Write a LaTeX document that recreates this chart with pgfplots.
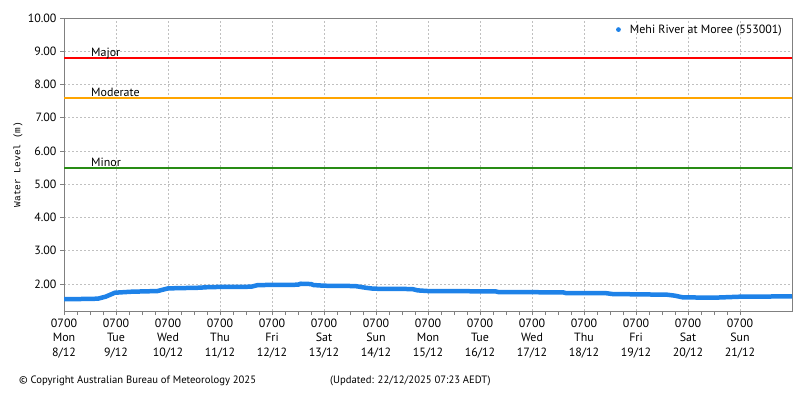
\documentclass[border=0pt]{standalone}
\usepackage{fontspec}
\setmainfont{PT Sans}
\newfontfamily\labmono{Liberation Mono}
\usepackage{pgfplots}
\pgfplotsset{compat=1.18}
\definecolor{levelblue}{RGB}{30,130,232}
\definecolor{majred}{RGB}{255,0,0}
\definecolor{modorange}{RGB}{255,165,0}
\definecolor{mingreen}{RGB}{40,140,20}
\definecolor{gridgrey}{RGB}{192,192,192}
\definecolor{axisgrey}{RGB}{128,128,128}

\pgfplotstableread{
day   level
0.00  1.55
0.30  1.55
0.65  1.56
0.80  1.62
0.98  1.74
1.30  1.77
1.80  1.79
2.00  1.87
2.60  1.89
2.80  1.91
3.60  1.92
3.73  1.97
4.50  1.98
4.55  2.01
4.75  2.00
4.80  1.97
5.00  1.95
5.60  1.94
5.80  1.89
5.95  1.86
6.70  1.85
6.80  1.81
7.00  1.79
8.30  1.78
8.35  1.76
9.60  1.75
9.65  1.73
10.40 1.73
10.55 1.70
11.60 1.68
11.75 1.65
11.90 1.60
12.50 1.59
13.00 1.62
14.00 1.63
}\levels

\begin{document}
\begin{tikzpicture}
\useasboundingbox (0,0) rectangle (800bp,400bp);
\begin{axis}[
    at={(64bp,89bp)}, anchor=south west,
    width=728bp, height=293bp, scale only axis,
    xmin=0, xmax=14, ymin=1.19, ymax=10,
    font=\fontsize{12}{15}\selectfont,
    axis line style={axisgrey},
    tick style={axisgrey, line width=0.8bp},
    tick align=outside, tick pos=left,
    major tick length=4bp, minor tick length=4bp,
    xtick={0,...,13},
    minor x tick num=3,
    xticklabels={
      {0700\\Mon\\8/12},{0700\\Tue\\9/12},{0700\\Wed\\10/12},{0700\\Thu\\11/12},
      {0700\\Fri\\12/12},{0700\\Sat\\13/12},{0700\\Sun\\14/12},{0700\\Mon\\15/12},
      {0700\\Tue\\16/12},{0700\\Wed\\17/12},{0700\\Thu\\18/12},{0700\\Fri\\19/12},
      {0700\\Sat\\20/12},{0700\\Sun\\21/12}},
    xticklabel style={align=center, font=\fontsize{12}{15}\selectfont},
    ytick={2,...,10},
    yticklabel style={/pgf/number format/.cd, fixed, fixed zerofill, precision=2, assume math mode=true},
    xmajorgrids, ymajorgrids,
    major grid style={gridgrey, dash pattern=on 2bp off 2bp, line width=0.7bp},
    ylabel={\labmono\fontsize{9.5}{10}\selectfont Water Level (m)},
    ylabel style={at={(rel axis cs:0,0.5)}, anchor=center, yshift=46bp},
    legend style={at={(rel axis cs:0.989,0.985)}, anchor=north east, draw=none, fill=none,
      font=\fontsize{12}{14}\selectfont, inner sep=0pt},
    legend cell align=left,
    clip=true,
]
\addlegendimage{legend image code/.code={
    \path[draw=none, fill=none] (0bp,0bp) -- (12bp,0bp);
    \fill[levelblue, draw=none] (2.5bp,0bp) circle (2.4bp);}}
\addlegendentry{Mehi River at Moree (553001)}
\addplot[majred, line width=2bp, forget plot] coordinates {(0,8.8) (14,8.8)};
\addplot[modorange, line width=2bp, forget plot] coordinates {(0,7.6) (14,7.6)};
\addplot[mingreen, line width=2bp, forget plot] coordinates {(0,5.5) (14,5.5)};
\addplot[levelblue, line width=4.5bp, line join=round, forget plot] table[x=day, y=level] {\levels};
\node[anchor=base west, inner sep=0pt, font=\fontsize{12}{13}\selectfont] at (axis cs:0.52,8.84) {Major};
\node[anchor=base west, inner sep=0pt, font=\fontsize{12}{13}\selectfont] at (axis cs:0.52,7.64) {Moderate};
\node[anchor=base west, inner sep=0pt, font=\fontsize{12}{13}\selectfont] at (axis cs:0.52,5.54) {Minor};
\end{axis}
\node[anchor=base west, inner sep=0pt, font=\fontsize{10.7}{12}\selectfont] at (19bp,17bp) {\textcopyright{} Copyright Australian Bureau of Meteorology 2025};
\node[anchor=base west, inner sep=0pt, font=\fontsize{10.7}{12}\selectfont] at (330bp,17bp) {(Updated: 22/12/2025 07:23 AEDT)};
\end{tikzpicture}
\end{document}
